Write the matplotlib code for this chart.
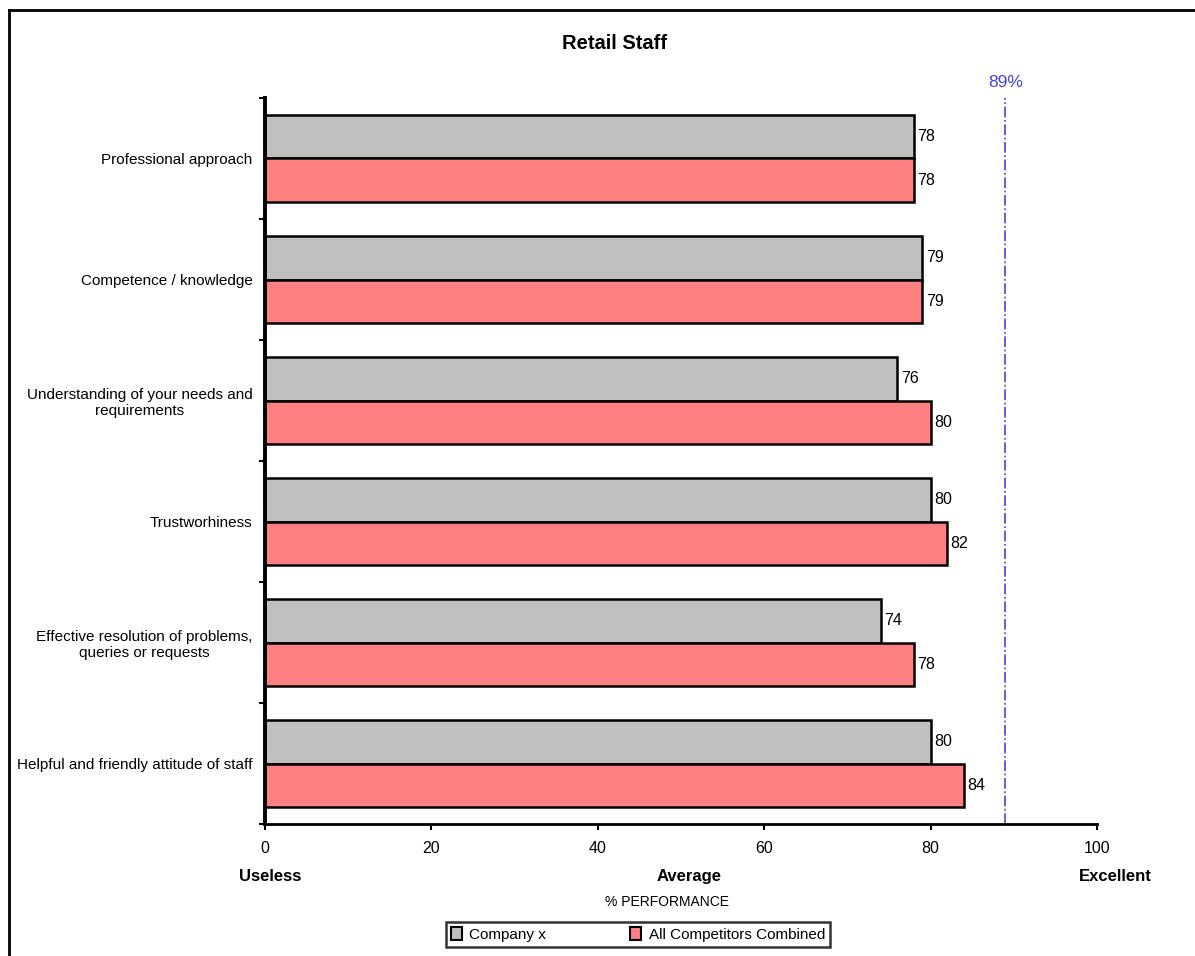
import matplotlib.pyplot as plt
from matplotlib.lines import Line2D
from matplotlib.patches import Patch

plt.rcParams["font.family"] = ["Liberation Sans", "DejaVu Sans"]

categories = [
    "Professional approach",
    "Competence / knowledge",
    "Understanding of your needs and\nrequirements",
    "Trustworhiness",
    "Effective resolution of problems,\nqueries or requests",
    "Helpful and friendly attitude of staff",
]
company_x = [78, 79, 76, 80, 74, 80]
competitors = [78, 79, 80, 82, 78, 84]
target = 89
x_ticks = [0, 20, 40, 60, 80, 100]

GREY = "#C0C0C0"
PINK = "#FF8080"
BLUE = "#4646D8"

fig = plt.figure(figsize=(11.95, 9.56), dpi=100)
ax = fig.add_axes([0.2218, 0.138, 0.6962, 0.7595])

pos = list(range(len(categories)))
h = 0.36
ax.barh([p - h / 2 for p in pos], company_x, height=h, color=GREY,
        edgecolor="black", linewidth=1.8)
ax.barh([p + h / 2 for p in pos], competitors, height=h, color=PINK,
        edgecolor="black", linewidth=1.8)

for p, v in zip(pos, company_x):
    ax.text(v + 0.4, p - h / 2, str(v), va="center", ha="left", fontsize=11.5)
for p, v in zip(pos, competitors):
    ax.text(v + 0.4, p + h / 2, str(v), va="center", ha="left", fontsize=11.5)

# target line
ax.axvline(target, color=BLUE, linestyle="-.", linewidth=1.2)
ax.text(target, -0.57, f"{target}%", color=BLUE, ha="center", va="bottom",
        fontsize=12.5)

ax.set_xlim(0, 100)
ax.set_ylim(len(categories) - 0.5, -0.5)
ax.set_xticks(x_ticks)
ax.set_xticklabels([str(t) for t in x_ticks], fontsize=11.5)

# category labels sit between the boundary ticks
ax.set_yticks([p - 0.5 for p in pos] + [len(categories) - 0.5])
ax.set_yticklabels([])
ax.set_yticks(pos, minor=True)
ax.set_yticklabels(categories, minor=True, fontsize=11, multialignment="center")
ax.tick_params(axis="y", which="minor", length=0, pad=9)
ax.tick_params(axis="y", which="major", length=4, width=1.5, direction="out")
ax.tick_params(axis="x", length=4, width=1.5, direction="out", pad=8)

for side in ["top", "right"]:
    ax.spines[side].set_visible(False)
ax.spines["left"].set_linewidth(2.8)
ax.spines["bottom"].set_linewidth(2)

fig.text(0.514, 0.955, "Retail Staff", ha="center", va="center",
         fontsize=14.5, fontweight="bold")
fig.text(0.226, 0.083, "Useless", ha="center", va="center",
         fontsize=12, fontweight="bold")
fig.text(0.577, 0.083, "Average", ha="center", va="center",
         fontsize=12, fontweight="bold")
fig.text(0.933, 0.083, "Excellent", ha="center", va="center",
         fontsize=12, fontweight="bold")
fig.text(0.558, 0.057, "% PERFORMANCE", ha="center", va="center", fontsize=10)

handles = [Patch(facecolor=GREY, edgecolor="black", linewidth=1.5),
           Patch(facecolor=PINK, edgecolor="black", linewidth=1.5)]
leg = fig.legend(handles, ["Company x", "All Competitors Combined"],
                 loc="center", bbox_to_anchor=(0.534, 0.0225), ncol=2,
                 fontsize=11, frameon=True, fancybox=False,
                 handlelength=0.7, handleheight=0.9, handletextpad=0.5,
                 columnspacing=5.5, borderpad=0.35)
leg.get_frame().set_edgecolor("black")
leg.get_frame().set_linewidth(1.8)

# chart area border (left and top edges)
fig.add_artist(Line2D([0.0075, 0.0075], [0.0, 0.9895], color="black",
                      linewidth=2, transform=fig.transFigure))
fig.add_artist(Line2D([0.0075, 1.0], [0.9895, 0.9895], color="black",
                      linewidth=2, transform=fig.transFigure))

fig.savefig("out.png", dpi=100)
